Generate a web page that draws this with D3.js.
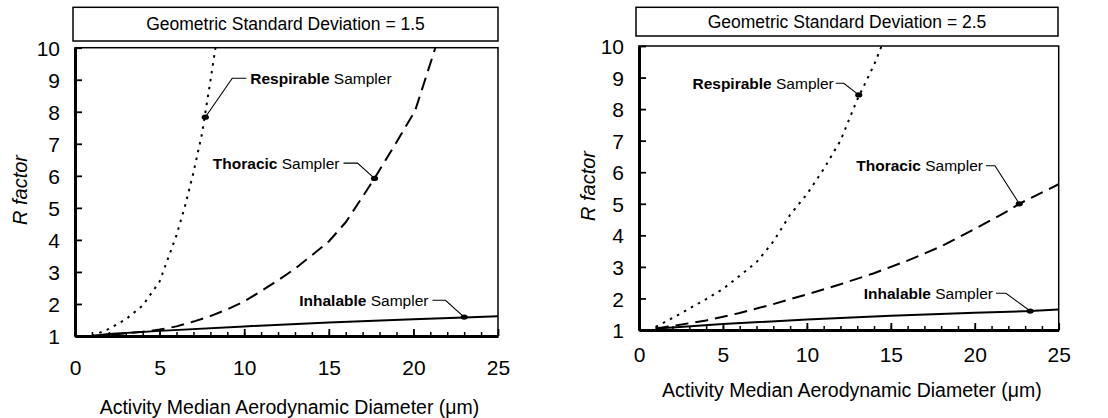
<!DOCTYPE html>
<html>
<head>
<meta charset="utf-8">
<script src="https://cdn.jsdelivr.net/npm/d3@7"></script>
<style>
  html, body { margin: 0; padding: 0; background: #fff; }
  svg { display: block; font-family: "Liberation Sans", Arial, sans-serif; }
</style>
</head>
<body>
<svg id="chart" width="1108" height="418"></svg>
<script>
// ---------------- DATA ----------------
const panelTitles = ["Geometric Standard Deviation = 1.5", "Geometric Standard Deviation = 2.5"];
const xTickValues = [0, 5, 10, 15, 20, 25];
const yTickValues = [1, 2, 3, 4, 5, 6, 7, 8, 9, 10];
const xAxisTitle = "Activity Median Aerodynamic Diameter (\u03bcm)";
const yAxisTitle = "R factor";
const samplerNames = ["Respirable", "Thoracic", "Inhalable"];

// GSD = 1.5
const resp15D = [1, 2, 3, 4, 5, 6, 6.5, 7, 7.5, 8, 8.3];
const resp15R = [1.0, 1.22, 1.52, 1.95, 2.7, 4.15, 5.05, 6.1, 7.3, 8.95, 10.0];
const thor15D = [1, 2, 3, 4, 5, 6, 7, 8, 9, 10, 11, 12, 13, 14, 15, 16, 17, 17.7, 18, 19, 20.1, 21.3];
const thor15R = [1.0, 1.04, 1.08, 1.13, 1.2, 1.3, 1.45, 1.62, 1.83, 2.08, 2.4, 2.74, 3.1, 3.52, 3.95, 4.55, 5.35, 5.92, 6.18, 7.05, 8.03, 10.0];
const inh15D = [1, 2, 5, 10, 15, 20, 23, 25];
const inh15R = [1.0, 1.06, 1.16, 1.3, 1.42, 1.52, 1.58, 1.62];
// marked points (diameter, R) for Respirable, Thoracic, Inhalable
const mark15D = [7.7, 17.7, 23.0];
const mark15R = [7.83, 5.92, 1.59];

// GSD = 2.5
const resp25D = [1, 2, 3, 4, 5, 6, 7, 8, 9, 10, 11, 12, 13, 14, 14.45];
const resp25R = [1.1, 1.38, 1.68, 1.98, 2.3, 2.72, 3.15, 3.8, 4.65, 5.3, 6.1, 7.0, 8.3, 9.4, 10.0];
const thor25D = [1, 2, 4, 6, 8, 10, 12, 14, 16, 18, 20, 22, 22.65, 25];
const thor25R = [1.05, 1.13, 1.3, 1.54, 1.82, 2.13, 2.45, 2.8, 3.2, 3.65, 4.2, 4.78, 5.0, 5.62];
const inh25D = [1, 2, 5, 10, 15, 20, 23.3, 25];
const inh25R = [1.05, 1.08, 1.19, 1.33, 1.45, 1.55, 1.6, 1.65];
const mark25D = [13.09, 22.65, 23.3];
const mark25R = [8.45, 5.0, 1.6];

// ---------------- LAYOUT ----------------
const panels = [
  { title: panelTitles[0],
    series: [[resp15D, resp15R], [thor15D, thor15R], [inh15D, inh15R]],
    markD: mark15D, markR: mark15R,
    x0: 75, x1: 498, y0: 47.7, y1: 336,
    box: { x: 73, y: 7.3, w: 425, h: 33.7 },
    xLabelY: 367, xTitleY: 407, yTitleX: 20, yTitleY: 190,
    notes: [ { dx: 45, dy: -39, anchor: "start", gap: 4, len: 14 },
             { dx: -35, dy: -15.3, anchor: "end", gap: 4, len: 14 },
             { dx: -35.7, dy: -16.8, anchor: "end", gap: 4, len: 13 } ] },
  { title: panelTitles[1],
    series: [[resp25D, resp25R], [thor25D, thor25R], [inh25D, inh25R]],
    markD: mark25D, markR: mark25R,
    x0: 639, x1: 1058.7, y0: 46, y1: 330,
    box: { x: 636, y: 7.3, w: 422, h: 28.7 },
    xLabelY: 354, xTitleY: 390, yTitleX: 588, yTitleY: 186,
    notes: [ { dx: -25, dy: -11.6, anchor: "end", gap: 2, len: 8 },
             { dx: -36.3, dy: -38, anchor: "end", gap: 3, len: 9 },
             { dx: -37.2, dy: -17.8, anchor: "end", gap: 3, len: 10 } ] }
];

const lineStyles = [
  { dash: "2.5,5.5", width: 2 },   // respirable: dotted
  { dash: "13,7", width: 2 },      // thoracic: dashed
  { dash: null, width: 2 }         // inhalable: solid
];

const svg = d3.select("#chart");

panels.forEach((p, pi) => {
  const x = d3.scaleLinear().domain([0, 25]).range([p.x0, p.x1]);
  const y = d3.scaleLinear().domain([1, 10]).range([p.y1, p.y0]);
  const g = svg.append("g");

  g.append("rect")
    .attr("x", p.box.x).attr("y", p.box.y)
    .attr("width", p.box.w).attr("height", p.box.h)
    .attr("fill", "#fff").attr("stroke", "#000").attr("stroke-width", 1.5);
  g.append("text")
    .attr("x", p.box.x + p.box.w / 2).attr("y", p.box.y + p.box.h / 2)
    .attr("dy", "0.36em").attr("text-anchor", "middle")
    .attr("font-size", 17.5).text(p.title);

  g.append("rect")
    .attr("x", p.x0).attr("y", p.y0)
    .attr("width", p.x1 - p.x0).attr("height", p.y1 - p.y0)
    .attr("fill", "none").attr("stroke", "#000").attr("stroke-width", 1.5);

  const clipId = "clip" + pi;
  g.append("clipPath").attr("id", clipId).append("rect")
    .attr("x", p.x0).attr("y", p.y0 - 1)
    .attr("width", p.x1 - p.x0).attr("height", p.y1 - p.y0 + 1);

  const lineGen = d3.line().x(d => x(d[0])).y(d => y(d[1]));
  p.series.forEach((s, si) => {
    const pts = s[0].map((d, i) => [d, s[1][i]]);
    const path = g.append("path")
      .attr("clip-path", `url(#${clipId})`)
      .attr("d", lineGen(pts))
      .attr("fill", "none").attr("stroke", "#000")
      .attr("stroke-width", lineStyles[si].width);
    if (lineStyles[si].dash) path.attr("stroke-dasharray", lineStyles[si].dash);
  });

  g.append("g")
    .attr("transform", `translate(0,${p.y1})`)
    .call(d3.axisBottom(x).tickValues(d3.range(1, 25)).tickSize(-4).tickSizeOuter(0).tickFormat(""))
    .call(a => a.select(".domain").remove())
    .selectAll("line").attr("stroke-width", 1.5);

  const xa = g.append("g")
    .attr("transform", `translate(0,${p.y1})`)
    .call(d3.axisBottom(x).tickValues(xTickValues).tickSize(-7).tickSizeOuter(0).tickPadding(0));
  xa.select(".domain").attr("stroke-width", 3);
  xa.selectAll("line").attr("stroke-width", 1.8);
  xa.selectAll("text")
    .attr("y", p.xLabelY - p.y1).attr("dy", "0.36em")
    .attr("font-size", 21).attr("font-family", "Liberation Sans, Arial, sans-serif").attr("fill", "#000");

  const ya = g.append("g")
    .attr("transform", `translate(${p.x0},0)`)
    .call(d3.axisLeft(y).tickValues(yTickValues).tickSize(-7).tickSizeOuter(0).tickPadding(15));
  ya.select(".domain").attr("stroke-width", 3);
  ya.selectAll("line").attr("stroke-width", 1.8);
  ya.selectAll("text")
    .attr("dy", "0.36em")
    .attr("font-size", 21).attr("font-family", "Liberation Sans, Arial, sans-serif").attr("fill", "#000");

  g.append("text")
    .attr("x", (p.x0 + p.x1) / 2 + 3).attr("y", p.xTitleY).attr("dy", "0.36em")
    .attr("text-anchor", "middle").attr("font-size", 19.5).text(xAxisTitle);
  g.append("text")
    .attr("transform", `translate(${p.yTitleX},${p.yTitleY}) rotate(-90)`)
    .attr("dy", "0.36em").attr("text-anchor", "middle")
    .attr("font-size", 20).attr("font-style", "italic").text(yAxisTitle);

  p.markD.forEach((md, i) => {
    const mx = x(md), my = y(p.markR[i]);
    const n = p.notes[i];
    const tx = mx + n.dx, ty = my + n.dy;
    const dir = n.anchor === "start" ? -1 : 1;
    const lx0 = tx + dir * n.gap, lx1 = lx0 + dir * n.len;
    g.append("path")
      .attr("d", `M${lx0},${ty}L${lx1},${ty}L${mx},${my}`)
      .attr("fill", "none").attr("stroke", "#000").attr("stroke-width", 1.1);
    g.append("ellipse")
      .attr("cx", mx).attr("cy", my).attr("rx", 3.6).attr("ry", 2.6).attr("fill", "#000");
    const t = g.append("text")
      .attr("x", tx).attr("y", ty).attr("dy", "0.36em")
      .attr("text-anchor", n.anchor).attr("font-size", 15.5);
    t.append("tspan").attr("font-weight", "bold").text(samplerNames[i]);
    t.append("tspan").text(" Sampler");
  });
});
</script>
</body>
</html>
